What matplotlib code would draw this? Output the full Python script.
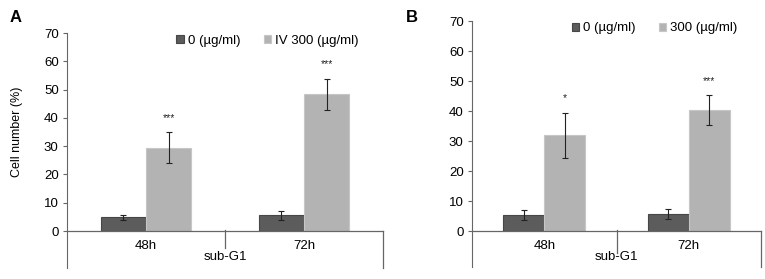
import matplotlib
matplotlib.use("Agg")
import matplotlib.pyplot as plt
import numpy as np

plt.rcParams['font.family'] = ['Liberation Sans', 'DejaVu Sans']

# data
times = ['48h', '72h']
group_label = 'sub-G1'

a_ctrl = [4.8, 5.5]
a_ctrl_err = [0.9, 1.6]
a_treat = [29.5, 48.3]
a_treat_err = [5.6, 5.6]
a_stars = ['***', '***']
a_labels = ['0 (µg/ml)', 'IV 300 (µg/ml)']

b_ctrl = [5.4, 5.6]
b_ctrl_err = [1.7, 1.6]
b_treat = [31.9, 40.2]
b_treat_err = [7.5, 5.0]
b_stars = ['*', '***']
b_labels = ['0 (µg/ml)', '300 (µg/ml)']

W, H = 765, 279
fig = plt.figure(figsize=(W / 100, H / 100), dpi=100)

DARK = '#5c5c5c'
LIGHT = '#b3b3b3'
AXIS = '#666666'


def px_axes(x0, x1, y_top, y_zero):
    # axes placed by pixel positions of the y=0 and y=70 lines
    return fig.add_axes([x0 / W, 1 - y_zero / H, (x1 - x0) / W, (y_zero - y_top) / H])


def panel(ax, ctrl, ctrl_err, treat, treat_err, stars, labels, bw, down_px, mid_px, ylabel=None):
    x = np.arange(len(times))
    ax.set_xlim(-0.5, len(times) - 0.5)
    ax.set_ylim(0, 70)
    px_per_unit = ax.bbox.height / 70
    down = down_px / px_per_unit
    mid = mid_px / px_per_unit

    b1 = ax.bar(x - bw / 2, ctrl, bw, color=DARK, edgecolor='#474747', linewidth=0.8, label=labels[0])
    b2 = ax.bar(x + bw / 2, treat, bw, color=LIGHT, edgecolor='#c6c6c6', linewidth=0.8, label=labels[1])
    ax.errorbar(x - bw / 2, ctrl, yerr=ctrl_err, fmt='none', ecolor='#222222', elinewidth=0.8, capsize=2, capthick=0.8)
    ax.errorbar(x + bw / 2, treat, yerr=treat_err, fmt='none', ecolor='#222222', elinewidth=0.8, capsize=2, capthick=0.8)
    for xi, t, e, s in zip(x, treat, treat_err, stars):
        ax.text(xi + bw / 2, t + e + 3.2, s, ha='center', va='bottom', fontsize=7.5, color='#222222')

    for side in ['top', 'right', 'bottom']:
        ax.spines[side].set_visible(False)
    ax.spines['left'].set_color(AXIS)
    ax.spines['left'].set_bounds(-down, 70)
    ax.axhline(0, color=AXIS, lw=0.9, clip_on=False)
    # category dividers below the axis
    ax.plot([0.5, 0.5], [0.3, -mid], color=AXIS, lw=0.9, clip_on=False)
    ax.plot([1.5, 1.5], [0, -down], color=AXIS, lw=0.9, clip_on=False)

    ax.set_yticks(range(0, 71, 10))
    ax.tick_params(axis='y', length=3, width=0.8, color=AXIS, labelsize=9.5, pad=3)
    ax.set_xticks([])
    for xi, t in zip(x, times):
        ax.text(xi, -9 / px_per_unit, t, ha='center', va='top', fontsize=9.5)
    ax.text(0.5, -20 / px_per_unit, group_label, ha='center', va='top', fontsize=9.5)

    if ylabel:
        ax.set_ylabel(ylabel, fontsize=9, labelpad=15)
    ax.legend(handles=[b1, b2], loc='upper right', bbox_to_anchor=(0.96, 1.05), ncol=2, frameon=False,
              fontsize=9.5, handlelength=0.55, handleheight=0.55, handletextpad=0.3, columnspacing=1.8)
    return ax


axA = px_axes(67, 383, 33, 231)
axB = px_axes(472, 761, 21, 231)
fig.canvas.draw()

panel(axA, a_ctrl, a_ctrl_err, a_treat, a_treat_err, a_stars, a_labels, 0.285, 37, 17, 'Cell number (%)')
panel(axB, b_ctrl, b_ctrl_err, b_treat, b_treat_err, b_stars, b_labels, 0.285, 36, 22)

fig.text(10 / W, 1 - 18 / H, 'A', fontsize=12, fontweight='bold', va='center', ha='left')
fig.text(406 / W, 1 - 17 / H, 'B', fontsize=12, fontweight='bold', va='center', ha='left')

fig.savefig('out.png', dpi=100)
